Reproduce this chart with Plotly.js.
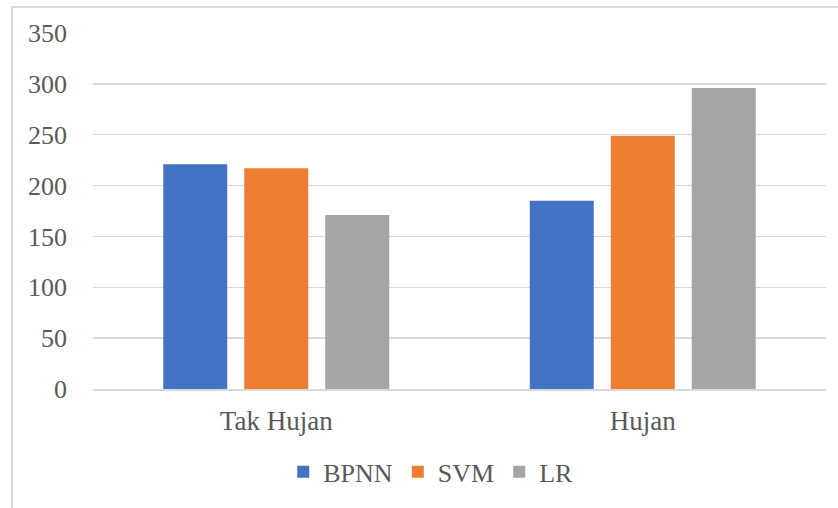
<!DOCTYPE html>
<html>
<head>
<meta charset="utf-8">
<script src="https://cdn.plot.ly/plotly-3.0.1.min.js"></script>
<style>
  html, body { margin: 0; padding: 0; background: #ffffff; overflow: hidden; }
  #wrap { position: relative; width: 838px; height: 508px; overflow: hidden; }
  #chart { position: absolute; left: 0; top: 0; width: 838px; height: 508px; }
  #chart svg text { font-family: "Liberation Serif", "Times New Roman", serif !important; }
  #frame {
    position: absolute; left: 11px; top: 6px; width: 900px; height: 600px;
    border: 2px solid #d9d9d9; pointer-events: none;
  }
</style>
</head>
<body>
<div id="wrap">
  <div id="chart"></div>
  <div id="frame"></div>
</div>
<script>
// Categories and per-model values
const categories = ["Tak Hujan", "Hujan"];
const bpnn = [221, 185];
const svm  = [217, 249];
const lr   = [171, 296];
const seriesNames = ["BPNN", "SVM", "LR"];
const seriesColors = ["#4472C4", "#ED7D31", "#A5A5A5"];

const textColor = "#595959";
const serifFamily = "Liberation Serif";

const traces = [bpnn, svm, lr].map((vals, i) => ({
  type: "bar",
  name: seriesNames[i],
  x: categories,
  y: vals,
  marker: { color: seriesColors[i], line: { width: 0 } },
  hoverinfo: "skip"
}));

const layout = {
  width: 838,
  height: 508,
  margin: { l: 93, r: 12, t: 33, b: 119, pad: 0 },
  paper_bgcolor: "rgba(0,0,0,0)",
  plot_bgcolor: "rgba(0,0,0,0)",
  barmode: "group",
  bargap: 0.337,
  bargroupgap: 0.21,
  showlegend: true,
  legend: {
    orientation: "h",
    xref: "container",
    yref: "container",
    x: 0.338,
    xanchor: "left",
    y: 0.071,
    yanchor: "middle",
    font: { family: serifFamily, size: 26, color: textColor },
    bgcolor: "rgba(0,0,0,0)",
    itemclick: false,
    itemdoubleclick: false
  },
  xaxis: {
    type: "category",
    showgrid: false,
    showline: true,
    linecolor: "#d9d9d9",
    linewidth: 1.5,
    ticks: "",
    ticklabelstandoff: 7,
    tickfont: { family: serifFamily, size: 27, color: textColor },
    fixedrange: true
  },
  yaxis: {
    range: [0, 350],
    dtick: 50,
    tick0: 0,
    showgrid: true,
    gridcolor: "#d9d9d9",
    gridwidth: 1.5,
    zeroline: false,
    showline: false,
    ticks: "",
    ticklabelstandoff: 25,
    tickfont: { family: serifFamily, size: 26, color: textColor },
    fixedrange: true
  }
};

Plotly.newPlot("chart", traces, layout, { displayModeBar: false, staticPlot: true });
</script>
</body>
</html>
